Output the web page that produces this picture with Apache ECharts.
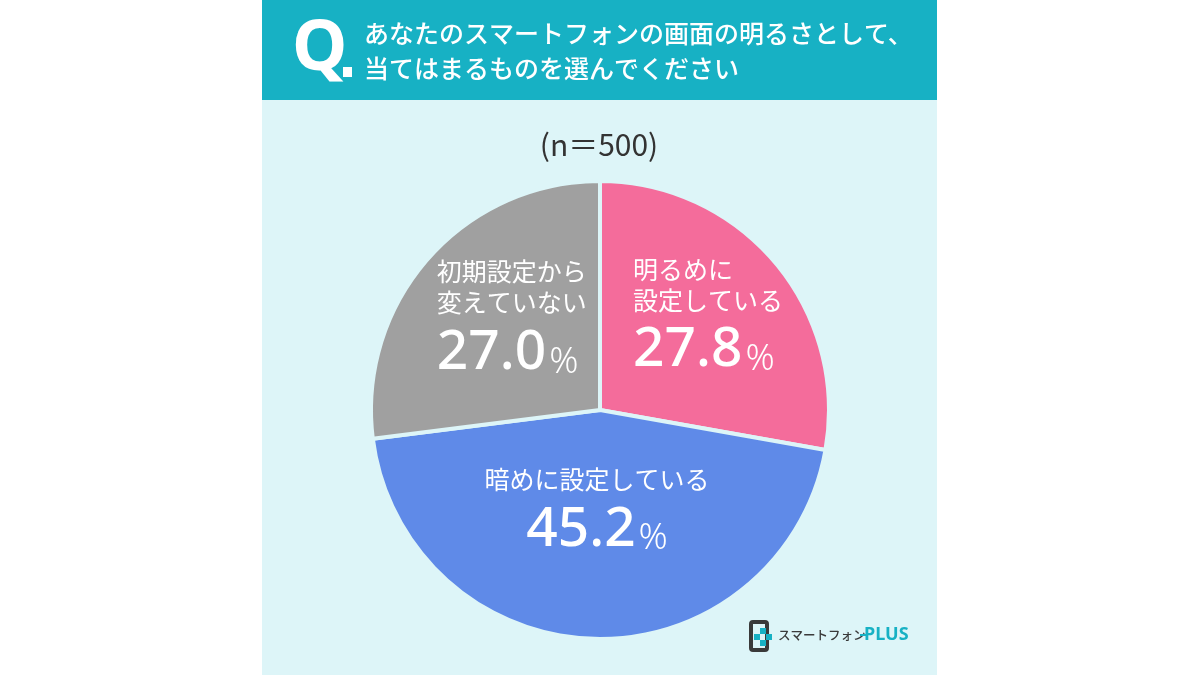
<!DOCTYPE html>
<html>
<head>
<meta charset="utf-8">
<script src="https://cdn.jsdelivr.net/npm/echarts@6/dist/echarts.min.js"></script>
<style>
html,body{margin:0;padding:0;background:#ffffff;}
#c{width:1200px;height:675px;}
</style>
</head>
<body>
<div id="c"></div>
<script>
const titleLines = ['あなたのスマートフォンの画面の明るさとして、', '当てはまるものを選んでください'];
const sampleNote = '(n＝500)';
const categories = ['明るめに\n設定している', '暗めに設定している', '初期設定から\n変えていない'];
const values = [27.8, 45.2, 27.0];
const colors = ['#F46C9B', '#5F8AE8', '#A0A0A0'];
const labelAligns = ['left', 'center', 'left'];
const labelShiftX = [18, 0, 0];
const labelShiftY = [-19, -17, -14];

const FONT = '"Noto Sans CJK JP", "Noto Sans", sans-serif';
const NUMFONT = '"Noto Sans", "Noto Sans CJK JP", sans-serif';
const chart = echarts.init(document.getElementById('c'));

const data = categories.map((name, i) => ({
  name: name,
  value: values[i],
  itemStyle: { color: colors[i] },
  label: {
    formatter: function (p) {
      const a = labelAligns[i] === 'left' ? 'L' : 'C';
      const lines = p.name.split('\n').map(s => '{n' + a + '|' + s + '}');
      return lines.join('\n') + '\n{v' + a + '|' + p.value.toFixed(1) + '}{p' + a + '|%}';
    }
  }
}));

function richSet() {
  const base = {
    n: { fontSize: 25, color: '#ffffff', fontFamily: FONT, lineHeight: 31 },
    v: { fontSize: 55, color: '#ffffff', fontFamily: NUMFONT, fontWeight: 500, lineHeight: 62, padding: [8, 0, 0, 0] },
    p: { fontSize: 36, color: '#ffffff', fontFamily: NUMFONT, fontWeight: 300, lineHeight: 62, padding: [12, 0, 0, 3], verticalAlign: 'bottom' }
  };
  const r = {};
  ['L', 'C'].forEach(a => {
    Object.keys(base).forEach(k => {
      r[k + a] = Object.assign({}, base[k], { align: a === 'L' ? 'left' : 'center' });
    });
  });
  return r;
}

chart.setOption({
  backgroundColor: '#ffffff',
  animation: false,
  graphic: [
    { type: 'rect', shape: { x: 262, y: 0, width: 675, height: 100 }, style: { fill: '#17B1C4' }, z: 0 },
    { type: 'rect', shape: { x: 262, y: 100, width: 675, height: 575 }, style: { fill: '#DDF5F8' }, z: 0 },
    { type: 'text', x: 292, y: 50, style: { text: 'Q', fill: '#ffffff', font: 'bold 70px "Noto Sans", sans-serif', textVerticalAlign: 'middle' }, z: 5 },
    { type: 'rect', shape: { x: 343, y: 67, width: 9, height: 10 }, style: { fill: '#ffffff' }, z: 5 },
    { type: 'text', x: 364, y: 33, style: { text: titleLines[0], fill: '#ffffff', font: '500 25px ' + FONT, textVerticalAlign: 'middle' }, z: 5 },
    { type: 'text', x: 364, y: 68, style: { text: titleLines[1], fill: '#ffffff', font: '500 25px ' + FONT, textVerticalAlign: 'middle' }, z: 5 },
    { type: 'text', x: 599, y: 145, style: { text: sampleNote, fill: '#333333', font: '30px ' + FONT, textAlign: 'center', textVerticalAlign: 'middle' }, z: 5 },
    // logo icon
    { type: 'rect', shape: { x: 751, y: 622, width: 16, height: 28, r: 2 }, style: { fill: 'none', stroke: '#3a3a3a', lineWidth: 4 }, z: 5 },
    { type: 'rect', shape: { x: 760, y: 628, width: 6, height: 6 }, style: { fill: '#17B1C4' }, z: 6 },
    { type: 'rect', shape: { x: 766, y: 634, width: 6, height: 6 }, style: { fill: '#17B1C4' }, z: 6 },
    { type: 'rect', shape: { x: 760, y: 640, width: 6, height: 6 }, style: { fill: '#17B1C4' }, z: 6 },
    { type: 'rect', shape: { x: 754, y: 634, width: 6, height: 6 }, style: { fill: '#17B1C4' }, z: 6 },
    { type: 'text', x: 778, y: 635, style: { text: 'スマートフォン', fill: '#3a3a3a', font: '500 12.5px ' + FONT, textVerticalAlign: 'middle' }, z: 5 },
    { type: 'rect', shape: { x: 860, y: 634, width: 6, height: 2 }, style: { fill: '#17B1C4' }, z: 5 },
    { type: 'text', x: 864, y: 635, style: { text: 'PLUS', fill: '#17B1C4', font: 'bold 18px "Noto Sans", sans-serif', textVerticalAlign: 'middle' }, z: 5 }
  ],
  series: [{
    type: 'pie',
    center: [600, 410],
    radius: [0, 229],
    startAngle: 90,
    clockwise: true,
    itemStyle: { borderColor: '#DDF5F8', borderWidth: 4 },
    label: {
      show: true,
      position: 'inside',
      rich: richSet()
    },
    labelLayout: function (params) {
      return { dx: labelShiftX[params.dataIndex], dy: labelShiftY[params.dataIndex] };
    },
    labelLine: { show: false },
    emphasis: { disabled: true },
    data: data,
    z: 3
  }]
});
</script>
</body>
</html>
